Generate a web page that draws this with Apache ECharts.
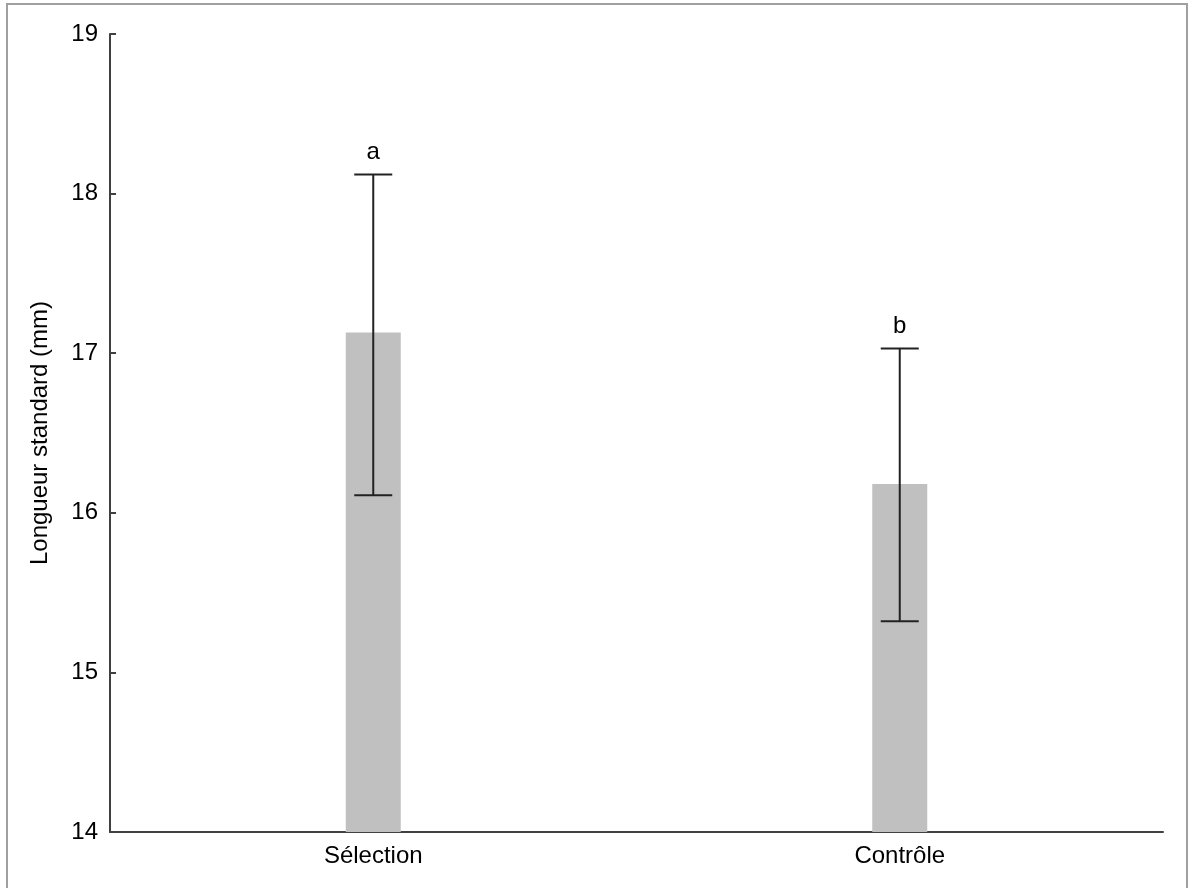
<!DOCTYPE html>
<html>
<head>
<meta charset="utf-8">
<script src="https://cdn.jsdelivr.net/npm/echarts@6/dist/echarts.min.js"></script>
<style>
html,body{margin:0;padding:0;background:#fff;}
#chart{width:1190px;height:888px;}
</style>
</head>
<body>
<div id="chart"></div>
<script>
const categories = ['Sélection', 'Contrôle'];
const means = [17.13, 16.18];
const errLow = [16.11, 15.32];
const errHigh = [18.12, 17.03];
const letters = ['a', 'b'];
const yTicks = [14, 15, 16, 17, 18, 19];

const FONT = '"Liberation Sans", Arial, sans-serif';
const chart = echarts.init(document.getElementById('chart'));

const errData = categories.map((c, i) => [i, errLow[i], errHigh[i], letters[i]]);

chart.setOption({
  animation: false,
  backgroundColor: '#fff',
  graphic: [{
    type: 'rect',
    shape: { x: 7, y: 4, width: 1180, height: 900 },
    style: { fill: 'none', stroke: '#a0a0a0', lineWidth: 2 },
    silent: true
  }],
  grid: { left: 110, right: 27, top: 34, bottom: 56, containLabel: false },
  xAxis: {
    type: 'category',
    data: categories,
    axisLine: { lineStyle: { color: '#404040', width: 2 } },
    axisTick: { show: true, inside: true, alignWithLabel: true, length: 5, lineStyle: { color: '#404040', width: 2 } },
    axisLabel: { color: '#000', fontSize: 24, fontFamily: FONT, margin: 12 },
    splitLine: { show: false }
  },
  yAxis: {
    type: 'value',
    min: yTicks[0],
    max: yTicks[yTicks.length - 1],
    interval: 1,
    name: 'Longueur standard (mm)',
    nameLocation: 'middle',
    nameRotate: 90,
    nameGap: 58,
    nameTextStyle: { color: '#000', fontSize: 24, fontFamily: FONT },
    axisLine: { show: true, lineStyle: { color: '#404040', width: 2 } },
    axisTick: { show: true, inside: true, length: 6, lineStyle: { color: '#404040', width: 2 } },
    axisLabel: { color: '#000', fontSize: 24, fontFamily: FONT, margin: 12 },
    splitLine: { show: false }
  },
  series: [
    {
      type: 'bar',
      data: means,
      barWidth: 55,
      itemStyle: { color: '#c0c0c0' },
      silent: true
    },
    {
      type: 'custom',
      data: errData,
      z: 10,
      silent: true,
      renderItem: function (params, api) {
        const x = api.value(0);
        const lo = api.coord([x, api.value(1)]);
        const hi = api.coord([x, api.value(2)]);
        const hw = 19;
        const style = { stroke: '#222', lineWidth: 2 };
        return {
          type: 'group',
          children: [
            { type: 'line', shape: { x1: lo[0], y1: lo[1], x2: hi[0], y2: hi[1] }, style: style },
            { type: 'line', shape: { x1: lo[0] - hw, y1: lo[1], x2: lo[0] + hw, y2: lo[1] }, style: style },
            { type: 'line', shape: { x1: hi[0] - hw, y1: hi[1], x2: hi[0] + hw, y2: hi[1] }, style: style },
            { type: 'text', style: { text: letters[params.dataIndex], x: hi[0], y: hi[1] - 22, align: 'center', verticalAlign: 'middle', fill: '#000', font: '24px ' + FONT } }
          ]
        };
      }
    }
  ]
});
</script>
</body>
</html>
